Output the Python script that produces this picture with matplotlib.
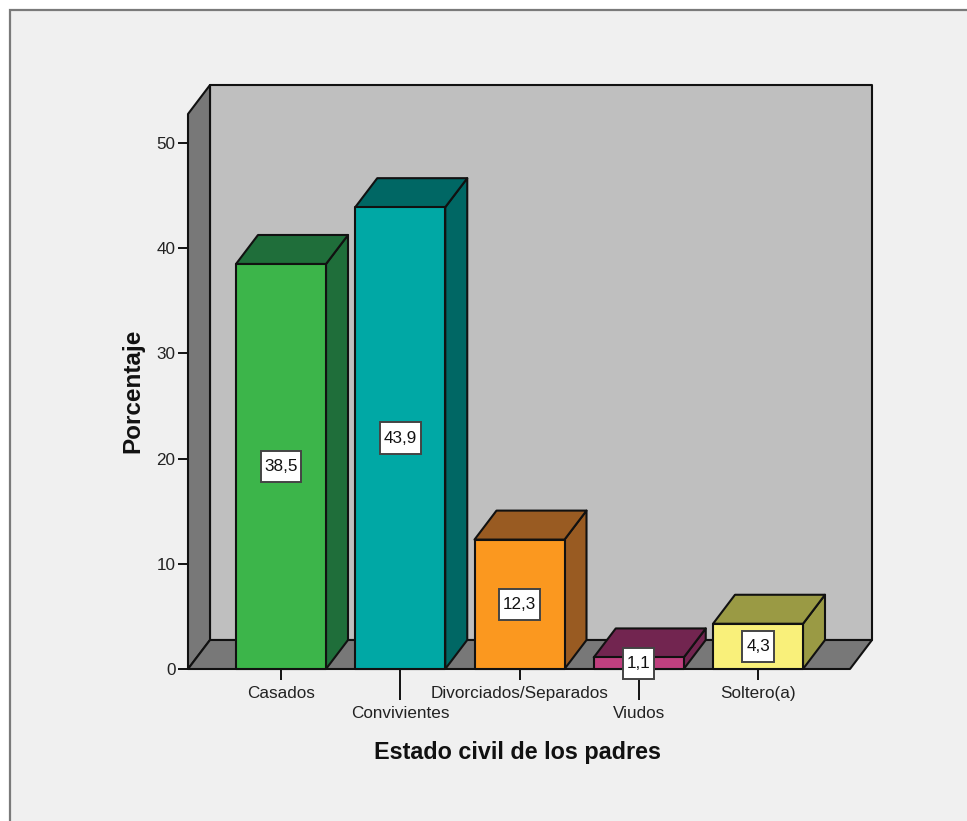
import matplotlib
matplotlib.use('Agg')
import matplotlib.pyplot as plt
from matplotlib.patches import Polygon, Rectangle
from matplotlib.path import Path

plt.rcParams['font.family'] = ['Liberation Sans', 'DejaVu Sans']

categories = ['Casados', 'Convivientes', 'Divorciados/Separados', 'Viudos', 'Soltero(a)']
values = [38.5, 43.9, 12.3, 1.1, 4.3]
value_labels = ['38,5', '43,9', '12,3', '1,1', '4,3']
y_ticks = [0, 10, 20, 30, 40, 50]
front_colors = ['#3CB54A', '#00A8A5', '#FB981F', '#C0407F', '#F9F07A']
shade_colors = ['#1F6E3A', '#006764', '#995B22', '#722550', '#9A9A44']

W, H = 967, 821
x0_px, y0_px = 281.0, 669.0      # pixel of category 0 / value 0
px_per_cat, px_per_val = 119.25, 10.52
bar_w = 90 / px_per_cat
dx, dy = 22 / px_per_cat, 29 / px_per_val   # depth of the 3d box
left, right = (188 - x0_px) / px_per_cat, (850 - x0_px) / px_per_cat
top = (669 - 114) / px_per_val
edge = '#111111'

fig = plt.figure(figsize=(W / 100, H / 100), dpi=100, facecolor='white')
fig.add_artist(Rectangle((10 / W, -0.02), 1.05, 1.02 - 10 / H, transform=fig.transFigure,
                         facecolor='#F0F0F0', edgecolor='#7A7A7A', linewidth=1.6, zorder=-1))

ax = fig.add_axes([188 / W, 1 - 669 / H, (872 - 188) / W, (669 - 85) / H])
ax.set_xlim(left, left + (872 - 188) / px_per_cat)
ax.set_ylim(0, (669 - 85) / px_per_val)
ax.patch.set_visible(False)
for s in ax.spines.values():
    s.set_visible(False)


def face(points, color, z):
    ax.add_patch(Polygon(points, closed=True, facecolor=color, edgecolor=edge,
                         linewidth=1.5, joinstyle='round', zorder=z, clip_on=False))


def label_box(x0, y0, width, height, size):
    # taller than the usual square box, more padding above and below
    px, py = 0.22 * size, 0.48 * size
    x1, y1 = x0 + width + px, y0 + height + py
    x0, y0 = x0 - px, y0 - py
    return Path([(x0, y0), (x1, y0), (x1, y1), (x0, y1), (x0, y0)], closed=True)


# walls and floor
face([(left + dx, dy), (right + dx, dy), (right + dx, top + dy), (left + dx, top + dy)], '#BFBFBF', 1)
face([(left, 0), (left + dx, dy), (left + dx, top + dy), (left, top)], '#787878', 1.1)
face([(left, 0), (right, 0), (right + dx, dy), (left + dx, dy)], '#787878', 1.2)

# bars
for i, v in enumerate(values):
    a, b = i - bar_w / 2, i + bar_w / 2
    z = 2 + i * 0.1
    face([(b, 0), (b + dx, dy), (b + dx, v + dy), (b, v)], shade_colors[i], z)
    face([(a, v), (b, v), (b + dx, v + dy), (a + dx, v + dy)], shade_colors[i], z)
    face([(a, 0), (b, 0), (b, v), (a, v)], front_colors[i], z)
    ax.text(i, v / 2, value_labels[i], ha='center', va='center', fontsize=12.3, color='#111111', zorder=5,
            bbox=dict(boxstyle=label_box, facecolor='white', edgecolor='#444444', linewidth=1.4))

# axes
ax.set_yticks(y_ticks)
ax.tick_params(axis='y', length=7.5, width=1.4, color=edge, labelsize=12.3, pad=1.5, labelcolor='#222222')
ax.set_xticks(range(len(categories)))
ax.set_xticklabels(categories)
ax.tick_params(axis='x', width=1.4, color=edge, labelsize=12.3, labelcolor='#222222')

# staggered labels, markersize has to come after set_pad
for i, t in enumerate(ax.xaxis.get_major_ticks()):
    t.set_pad(9 if i % 2 == 0 else 23.5)
    t.tick1line.set_markersize(8 if i % 2 == 0 else 22.5)

ax.set_xlabel('Estado civil de los padres', fontsize=16.8, fontweight='bold', color='#111111')
ax.xaxis.set_label_coords((518 - 188) / (872 - 188), -(752 - 669) / (669 - 85), ax.transAxes)
ax.xaxis.label.set_va('center')
ax.set_ylabel('Porcentaje', fontsize=17.5, fontweight='bold', color='#111111')
ax.yaxis.set_label_coords((133 - 188) / (872 - 188), (669 - 391) / (669 - 85), ax.transAxes)
ax.yaxis.label.set_va('center')

fig.savefig('out.png', dpi=100, facecolor='white')
